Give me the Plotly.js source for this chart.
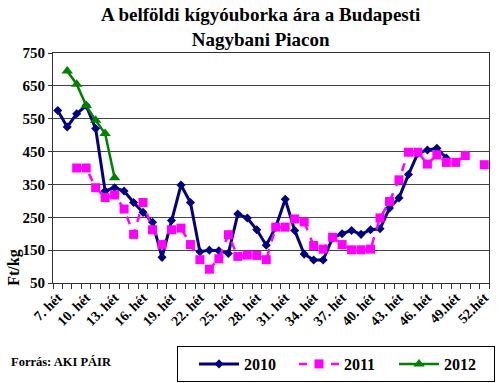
<!DOCTYPE html>
<html>
<head>
<meta charset="utf-8">
<script src="https://cdn.plot.ly/plotly-3.0.1.min.js"></script>
<style>html,body{margin:0;padding:0;background:#fff;}#chart{width:500px;height:383px;}</style>
</head>
<body>
<div id="chart"></div>
<script>
const weeks = [7,8,9,10,11,12,13,14,15,16,17,18,19,20,21,22,23,24,25,26,27,28,29,30,31,32,33,34,35,36,37,38,39,40,41,42,43,44,45,46,47,48,49,50,51,52];
const tickWeeks = [7,10,13,16,19,22,25,28,31,34,37,40,43,46,49,52];
const tickLabels = ["7. hét","10. hét","13. hét","16. hét","19. hét","22. hét","25. hét","28. hét","31. hét","34. hét","37. hét","40. hét","43. hét","46. hét","49.hét","52.hét"];
const yTicks = [50,150,250,350,450,550,650,750];

const y2010 = [575,525,565,590,520,330,340,330,295,265,235,128,240,348,295,145,150,148,140,260,248,212,165,220,305,210,138,120,120,187,200,210,198,212,215,278,309,380,445,455,460,430,null,null,null,null];
const y2011 = [null,null,400,400,340,310,318,275,198,295,212,167,212,217,167,121,92,124,197,131,135,134,121,220,220,245,236,164,153,189,167,151,151,153,248,298,364,448,448,412,440,417,417,438,null,410];
const y2012 = [null,695,655,590,545,505,370,null,null,null,null,null,null,null,null,null,null,null,null,null,null,null,null,null,null,null,null,null,null,null,null,null,null,null,null,null,null,null,null,null,null,null,null,null,null,null];

const serif = "Liberation Serif";
const bold = s => "<b>" + s + "</b>";

const traces = [
  {x: weeks, y: y2010, name: bold("2010"), type: "scatter", mode: "lines+markers",
   line: {color: "#000080", width: 3}, marker: {symbol: "diamond", size: 7, color: "#000080"}},
  {x: weeks, y: y2011, name: bold("2011"), type: "scatter", mode: "lines+markers",
   line: {color: "#FF00FF", width: 2.5, dash: "8px,8px"}, marker: {symbol: "square", size: 9, color: "#FF00FF"}},
  {x: weeks, y: y2012, name: bold("2012"), type: "scatter", mode: "lines+markers",
   line: {color: "#008000", width: 2.5}, marker: {symbol: "triangle-up", size: 10, color: "#008000"}}
];

const layout = {
  width: 500, height: 383,
  margin: {l: 53, r: 11, t: 53, b: 100},
  paper_bgcolor: "#fff", plot_bgcolor: "#fff",
  font: {family: serif, color: "#000"},
  showlegend: true,
  xaxis: {type: "linear", range: [6.5, 52.5], tickvals: tickWeeks, ticktext: tickLabels,
          tickangle: -45, ticks: "", showgrid: false, zeroline: false, automargin: false,
          showline: true, linecolor: "#333", linewidth: 1, mirror: true,
          tickfont: {family: serif, size: 14, color: "#000", weight: 700},
          minor: {tick0: 6.5, dtick: 1, ticks: "outside", ticklen: 5, tickcolor: "#333", tickwidth: 1, showgrid: false}},
  yaxis: {range: [50, 750], tickvals: yTicks, ticktext: yTicks.map(v => bold(String(v))),
          ticks: "outside", ticklen: 4, tickcolor: "#333", automargin: false,
          showgrid: true, gridcolor: "#444", gridwidth: 1, zeroline: false,
          showline: true, linecolor: "#333", linewidth: 1, mirror: true,
          tickfont: {family: "Times New Roman", size: 15, color: "#000"}},
  legend: {orientation: "h", x: 0.354, xanchor: "left", xref: "container", y: 0.0496, yref: "container", yanchor: "middle",
           bordercolor: "#000", borderwidth: 1, bgcolor: "#fff",
           entrywidth: 45, entrywidthmode: "pixels", itemwidth: 40,
           title: {text: "&nbsp;&nbsp;", side: "left", font: {family: serif, size: 12}},
           font: {family: serif, size: 16, color: "#000"}},
  annotations: [
    {text: bold("A belföldi kígyóuborka ára a Budapesti<br>Nagybani Piacon"), xref: "paper", yref: "paper",
     x: 0.475, y: 1.115, showarrow: false, xanchor: "center", yanchor: "middle",
     font: {family: serif, size: 19, color: "#000"}},
    {text: bold("Ft/kg"), xref: "paper", yref: "paper", x: -0.09, y: 0.065, textangle: -90,
     showarrow: false, xanchor: "center", yanchor: "middle",
     font: {family: serif, size: 16, color: "#000"}},
    {text: bold("Forrás: AKI PÁIR"), xref: "paper", yref: "paper", x: -0.1, y: -0.345,
     showarrow: false, xanchor: "left", yanchor: "middle",
     font: {family: serif, size: 12.5, color: "#000"}}
  ]
};

Plotly.newPlot("chart", traces, layout, {displayModeBar: false, staticPlot: true});
</script>
</body>
</html>
